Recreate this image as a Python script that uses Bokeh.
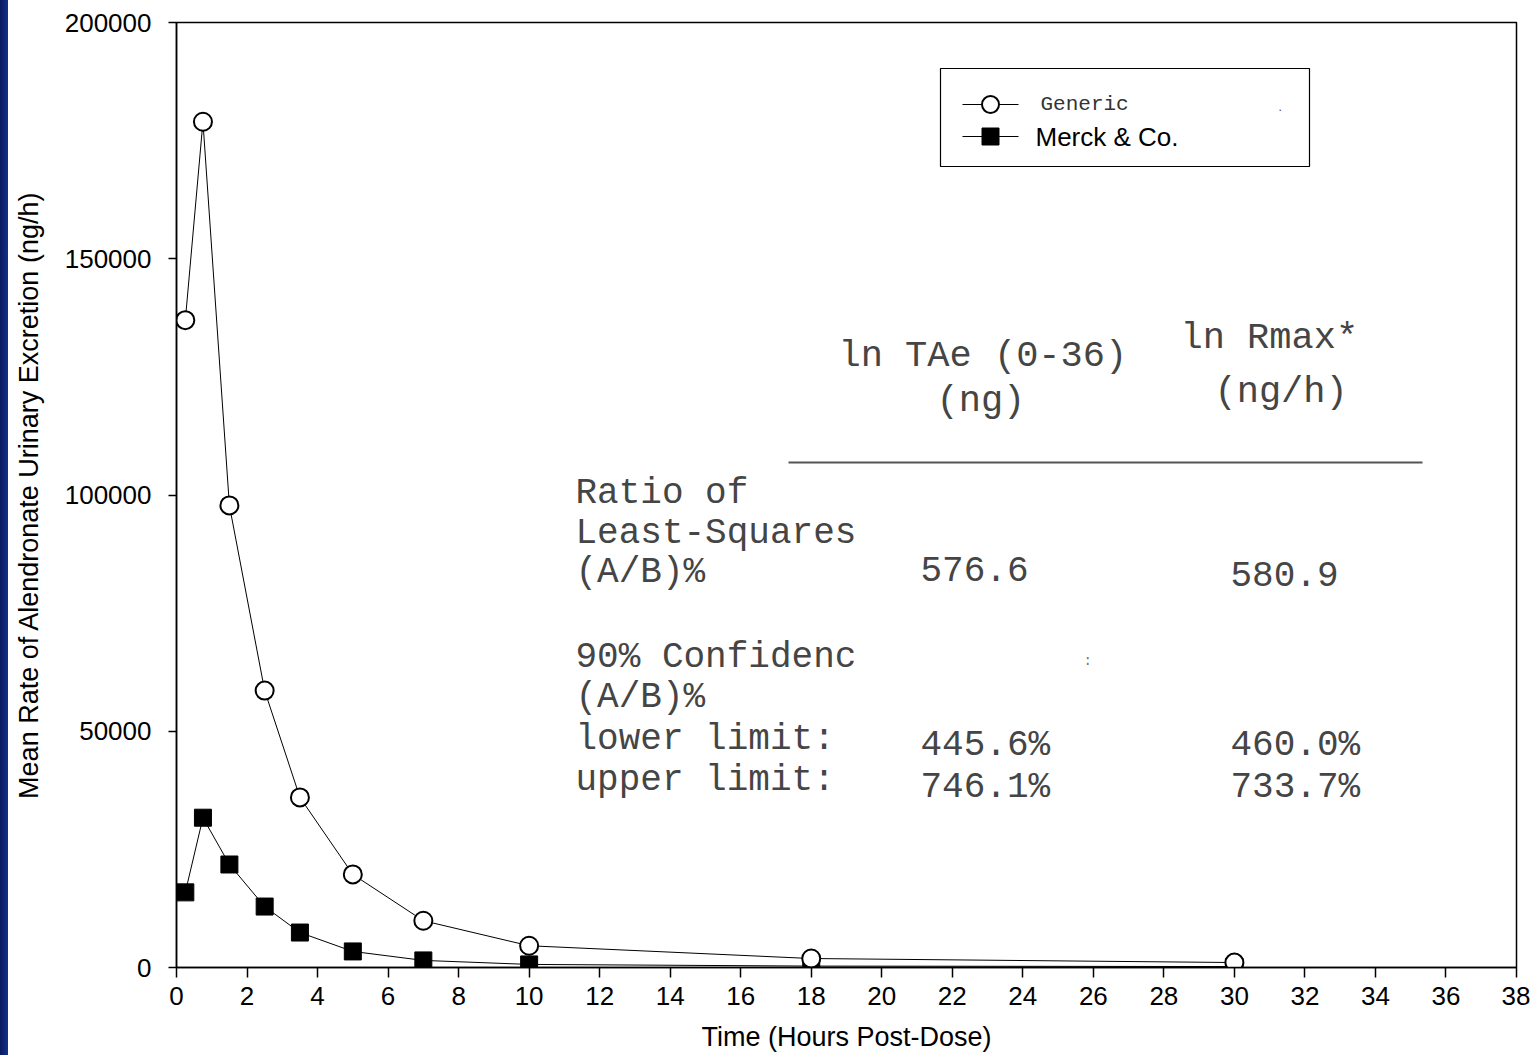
from bokeh.plotting import figure
from bokeh.models import Range1d, FixedTicker, BasicTickFormatter, Div
from bokeh.layouts import row
from bokeh.core.properties import value
from bokeh.embed import file_html
from bokeh.resources import INLINE

# ---- data ----
time_h = [0.25, 0.75, 1.5, 2.5, 3.5, 5, 7, 10, 18, 30]
generic = [137000, 179000, 97800, 58600, 36000, 19700, 9900, 4600, 1900, 1050]
merck = [15900, 31700, 21800, 12900, 7400, 3400, 1500, 650, 300, 200]
series_names = ["Generic", "Merck & Co."]
x_ticks = list(range(0, 39, 2))
y_ticks = [0, 50000, 100000, 150000, 200000]

col_heads = ["ln TAe (0-36)", "(ng)", "ln Rmax*", "(ng/h)"]
row_labels = ["Ratio of", "Least-Squares", "(A/B)%", "90% Confidenc", "(A/B)%",
              "lower limit:", "upper limit:"]
tae_vals = ["576.6", "445.6%", "746.1%"]
rmax_vals = ["580.9", "460.0%", "733.7%"]

W, H = 1522, 1055
FL, FT, FR, FB = 168, 22, 14, 88          # frame borders inside the figure
X0, X1, Y0, Y1 = 0, 38, 0, 200000
frame_w = W - FL - FR
frame_h = H - FT - FB
OFF = 8  # strip width


def X(px):
    return (px - OFF - FL) * (X1 - X0) / frame_w + X0


def Y(py):
    return (FT + frame_h - py) * (Y1 - Y0) / frame_h + Y0


p = figure(width=W, height=H, output_backend="svg", toolbar_location=None,
           x_range=Range1d(X0, X1), y_range=Range1d(Y0, Y1),
           min_border_left=FL, min_border_right=FR, min_border_top=FT,
           min_border_bottom=FB)
p.grid.visible = False
p.outline_line_color = "black"
p.outline_line_width = 1.5
p.background_fill_color = "white"
p.border_fill_color = "white"

for ax in (p.xaxis[0], p.yaxis[0]):
    ax.axis_line_color = "black"
    ax.axis_line_width = 1.5
    ax.major_tick_line_color = "black"
    ax.major_tick_line_width = 1.5
    ax.major_tick_in = 0
    ax.minor_tick_line_color = None
    ax.major_label_text_font = "Liberation Sans"
    ax.major_label_text_font_size = "26px"
    ax.major_label_text_color = "black"
    ax.axis_label_text_font = "Liberation Sans"
    ax.axis_label_text_font_size = "27px"
    ax.axis_label_text_font_style = "normal"
    ax.axis_label_text_color = "black"

p.xaxis.ticker = FixedTicker(ticks=x_ticks)
p.yaxis.ticker = FixedTicker(ticks=y_ticks)
p.yaxis.formatter = BasicTickFormatter(use_scientific=False)
p.xaxis.major_tick_out = 10
p.yaxis.major_tick_out = 8
p.xaxis.major_label_standoff = 9
p.yaxis.major_label_standoff = 17
p.xaxis.axis_label = "Time (Hours Post-Dose)"
p.yaxis.axis_label = "Mean Rate of Alendronate Urinary Excretion (ng/h)"
p.xaxis.axis_label_standoff = 14
p.yaxis.axis_label_standoff = 18

# ---- series ----
p.line(time_h, generic, line_color="black", line_width=1)
p.line(time_h, merck, line_color="black", line_width=1)
p.scatter(time_h, merck, marker="square", size=17, fill_color="black",
          line_color="black")
p.scatter(time_h, generic, marker="circle", size=18, fill_color="white",
          line_color="black", line_width=2)

# ---- legend (manual) ----
p.quad(left=[X(940)], right=[X(1309)], top=[Y(68)], bottom=[Y(166)],
       fill_color="white", line_color="black", line_width=1.2)
ly = [Y(104), Y(136)]
p.line([X(962), X(1018)], [ly[0], ly[0]], line_color="black", line_width=1)
p.line([X(962), X(1018)], [ly[1], ly[1]], line_color="black", line_width=1)
p.scatter([X(990)], [ly[0]], marker="circle", size=17, fill_color="white",
          line_color="black", line_width=2)
p.scatter([X(990)], [ly[1]], marker="square", size=17, fill_color="black",
          line_color="black")
p.text([X(1040)], [ly[0]], text=[series_names[0]], text_font=value("Liberation Mono"),
       text_font_size="21px", text_baseline="middle", text_color="#333")
p.text([X(1035)], [ly[1]], text=[series_names[1]], text_font=value("Liberation Sans"),
       text_font_size="26px", text_baseline="middle", text_color="black")
p.text([X(1278)], [Y(106)], text=["."], text_font=value("Liberation Sans"),
       text_font_size="12px", text_baseline="middle", text_color="#444")

# ---- inset table text ----
mono = value("Liberation Mono")
tc = "#454545"
fs = "36px"
p.text([X(838), X(936), X(1180), X(1214)], [Y(355), Y(400), Y(337), Y(391)],
       text=col_heads, text_font=mono, text_font_size="37px", text_baseline="middle",
       text_color=tc)
p.line([X(788), X(1422)], [Y(462), Y(462)], line_color="#555", line_width=2)
p.text([X(575)] * 7, [Y(y) for y in (493, 533, 572, 657, 697, 739, 780)],
       text=row_labels, text_font=mono, text_font_size=fs, text_baseline="middle",
       text_color=tc)
p.text([X(920)] * 3, [Y(568), Y(745), Y(787)], text=tae_vals, text_font=mono,
       text_font_size=fs, text_baseline="middle", text_color=tc)
p.text([X(1230)] * 3, [Y(573), Y(745), Y(787)], text=rmax_vals, text_font=mono,
       text_font_size=fs, text_baseline="middle", text_color=tc)
p.text([X(1083)], [Y(660)], text=[":"], text_font=mono, text_font_size="14px",
       text_baseline="middle", text_color="#777")

strip = Div(text="", width=OFF, height=H, margin=0,
            styles={"background": "linear-gradient(to right, #081a5e, #12308f)"})
layout = row(strip, p, spacing=0)
p.margin = 0

open("out.html", "w").write(file_html(layout, INLINE))
